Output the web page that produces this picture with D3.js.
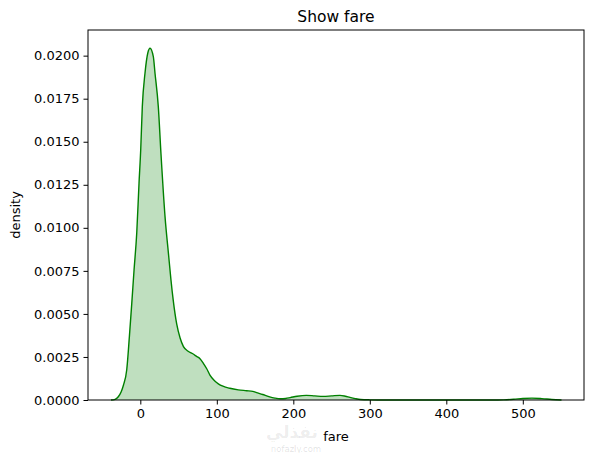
<!DOCTYPE html>
<html>
<head>
<meta charset="utf-8">
<script src="https://cdn.jsdelivr.net/npm/d3@7"></script>
<style>
  html, body { margin: 0; padding: 0; background: #fff; }
  svg { display: block; font-family: "DejaVu Sans", sans-serif; }
</style>
</head>
<body>
<svg id="chart" width="594" height="453"></svg>
<script>
// Data: fare value vs estimated density
const fareValues = [-38.3, -33, -28.8, -25, -22, -17.8, -14.3, -11.2, -8.2, -4.7, -1.7, 0.5, 2.6, 6.1, 9.7, 12.7, 17, 19.2, 23.5, 27, 32.3, 37, 40, 43, 47.6, 52, 56.4, 62, 68, 74, 78, 82.4, 87, 91, 97, 102, 108, 117, 128, 139, 147, 152, 160, 168, 176, 183, 190, 196, 205, 217, 228, 239, 250, 261, 268, 274, 281, 288, 300, 320, 400, 460, 475, 488, 500, 512, 525, 538, 550.6];
const densityValues = [0, 0.00004, 0.00019, 0.00048, 0.00087, 0.00174, 0.00368, 0.0056, 0.00755, 0.00968, 0.01259, 0.01452, 0.01704, 0.01898, 0.02014, 0.02043, 0.01994, 0.01898, 0.01704, 0.0143, 0.01065, 0.0084, 0.0070, 0.0058, 0.0044, 0.0036, 0.0031, 0.00285, 0.0027, 0.00252, 0.0024, 0.00213, 0.0018, 0.00145, 0.00112, 0.00094, 0.0008, 0.00068, 0.00059, 0.00054, 0.0005, 0.00043, 0.00032, 0.0002, 0.00011, 0.00007, 0.00009, 0.00014, 0.00022, 0.00027, 0.00024, 0.00021, 0.00024, 0.00027, 0.00022, 0.00015, 0.00008, 0.00003, 0.00001, 0, 0, 0, 0.00001, 0.00004, 0.00009, 0.00011, 0.00008, 0.00003, 0];
const xTicks = [0, 100, 200, 300, 400, 500];
const yTicks = [0, 0.0025, 0.005, 0.0075, 0.01, 0.0125, 0.015, 0.0175, 0.02];
const titleText = "Show fare";
const xLabel = "fare";
const yLabel = "density";

const data = fareValues.map((v, i) => ({ x: v, y: densityValues[i] }));

const svg = d3.select("#chart");
const mLeft = 88, mRight = 584, mTop = 30, mBottom = 400;

const x = d3.scaleLinear().domain([-68.4, 580]).range([mLeft, mRight]);
const y = d3.scaleLinear().domain([0, 0.02149]).range([mBottom, mTop]);

const area = d3.area().x(d => x(d.x)).y0(y(0)).y1(d => y(d.y)).curve(d3.curveMonotoneX);
const line = d3.line().x(d => x(d.x)).y(d => y(d.y)).curve(d3.curveMonotoneX);

svg.append("path").datum(data).attr("d", area)
  .attr("fill", "green").attr("fill-opacity", 0.25).attr("stroke", "none");
svg.append("path").datum(data).attr("d", line)
  .attr("fill", "none").attr("stroke", "green").attr("stroke-width", 1.4);

// axes
const xAxis = d3.axisBottom(x).tickValues(xTicks).tickSize(4.5).tickPadding(4).tickFormat(d3.format("d"));
const yAxis = d3.axisLeft(y).tickValues(yTicks).tickSize(4.5).tickPadding(4).tickFormat(d3.format(".4f"));

const gx = svg.append("g").attr("transform", `translate(0,${mBottom})`).call(xAxis);
const gy = svg.append("g").attr("transform", `translate(${mLeft},0)`).call(yAxis);
[gx, gy].forEach(g => {
  g.select(".domain").remove();
  g.selectAll("text").attr("font-size", 13).attr("fill", "#000").attr("font-family", "DejaVu Sans, sans-serif");
  g.selectAll("line").attr("stroke", "#000").attr("stroke-width", 1);
});

// frame
svg.append("rect").attr("x", mLeft).attr("y", mTop).attr("width", mRight - mLeft).attr("height", mBottom - mTop)
  .attr("fill", "none").attr("stroke", "#000").attr("stroke-width", 1);

// labels
svg.append("text").attr("x", (mLeft + mRight) / 2).attr("y", 22).attr("text-anchor", "middle")
  .attr("font-size", 15.5).text(titleText);
svg.append("text").attr("x", (mLeft + mRight) / 2).attr("y", 441).attr("text-anchor", "middle")
  .attr("font-size", 13).text(xLabel);
svg.append("text").attr("transform", `translate(20,${(mTop + mBottom) / 2}) rotate(-90)`).attr("text-anchor", "middle")
  .attr("font-size", 13).text(yLabel);

// faint watermark (kept clear of the axis texts)
svg.append("text").attr("x", 318).attr("y", 438).attr("text-anchor", "end")
  .attr("font-size", 17).attr("font-weight", "bold").attr("fill", "#000").attr("fill-opacity", 0.08).text("نفذلي");
svg.append("text").attr("x", 296).attr("y", 452).attr("text-anchor", "middle")
  .attr("font-size", 8.5).attr("fill", "#000").attr("fill-opacity", 0.12).text("nofazly.com");
</script>
</body>
</html>
